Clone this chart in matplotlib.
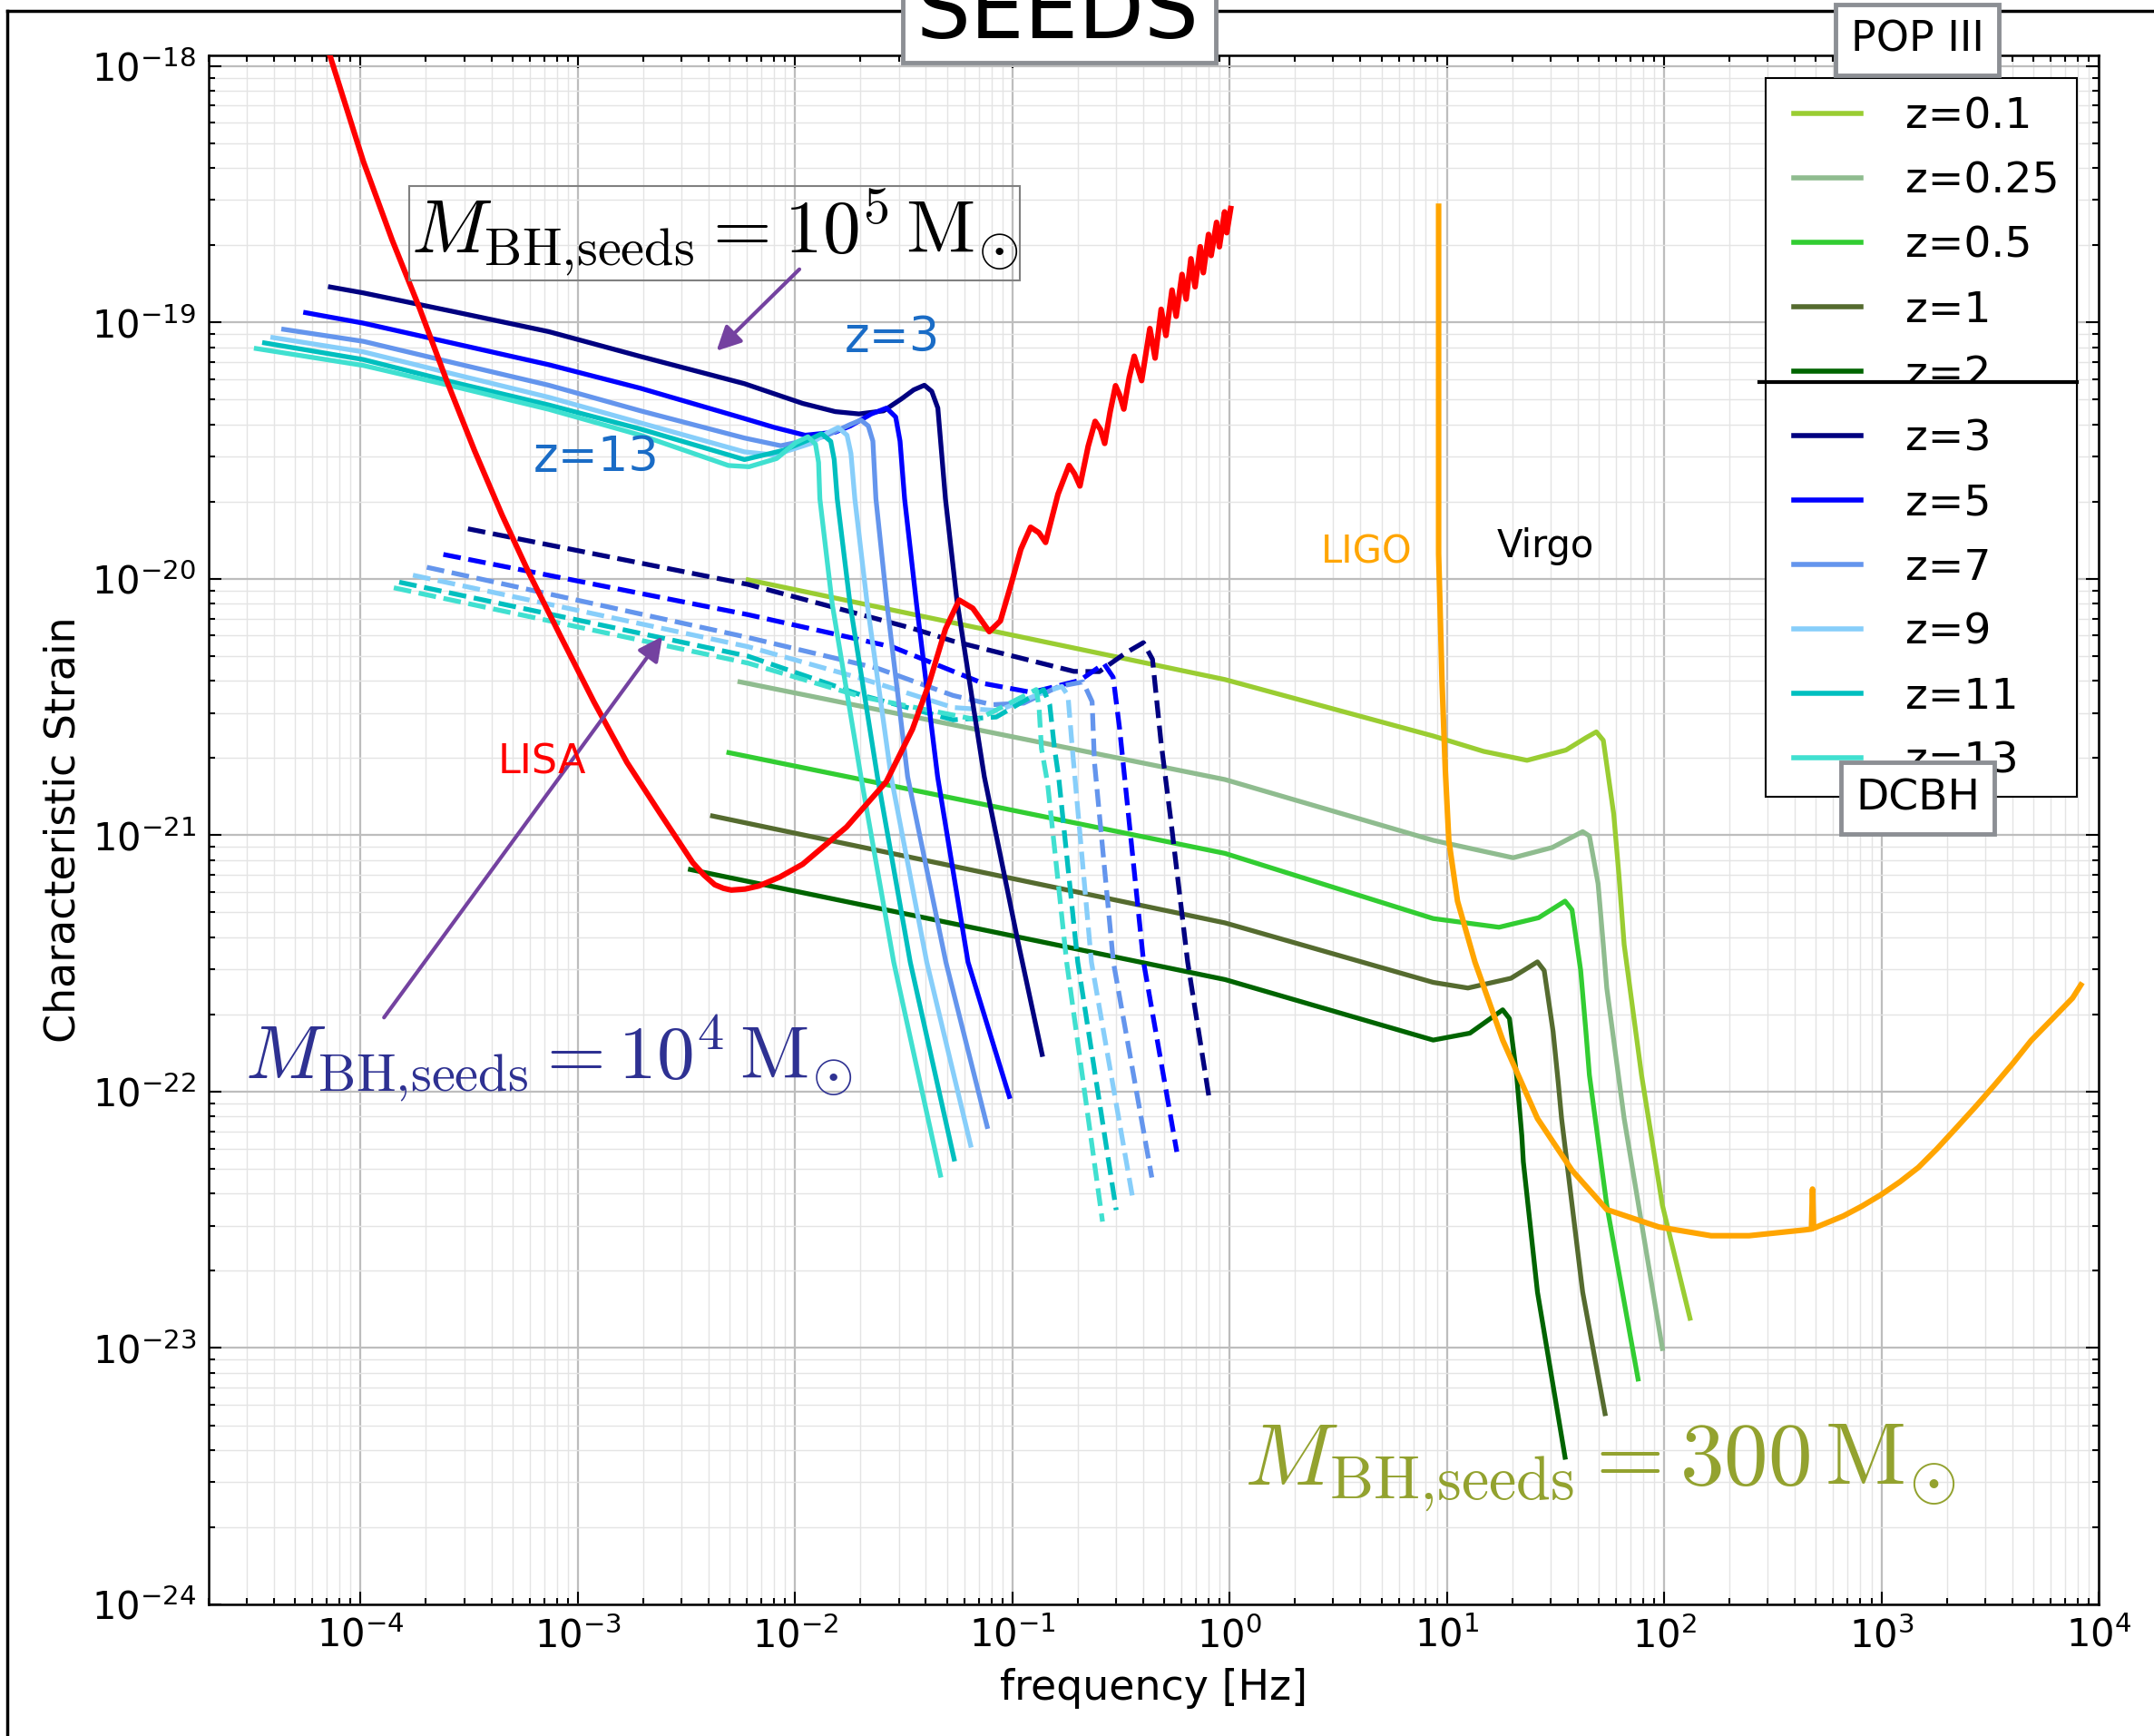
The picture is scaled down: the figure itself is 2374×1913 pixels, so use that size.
import numpy as np
import matplotlib.pyplot as plt
from matplotlib.lines import Line2D
from matplotlib.patches import Rectangle
from matplotlib.ticker import LogLocator

# every curve is a list of (log10 f [Hz], log10 h_c) pairs

# LISA sensitivity
lisa_curve = [(-4.139, -17.965), (-3.987, -18.373), (-3.855, -18.678), (-3.728, -18.946),
              (-3.602, -19.231), (-3.476, -19.499), (-3.349, -19.751), (-3.223, -19.981),
              (-3.077, -20.228), (-2.926, -20.480), (-2.774, -20.716), (-2.622, -20.914),
              (-2.471, -21.107), (-2.420, -21.155), (-2.370, -21.193), (-2.330, -21.207),
              (-2.294, -21.214), (-2.230, -21.210), (-2.167, -21.198), (-2.070, -21.163),
              (-1.965, -21.113), (-1.763, -20.968), (-1.580, -20.791), (-1.460, -20.587),
              (-1.384, -20.410), (-1.308, -20.196), (-1.245, -20.083), (-1.182, -20.115),
              (-1.106, -20.206), (-1.055, -20.164), (-1.005, -20.019), (-0.961, -19.885),
              (-0.916, -19.799), (-0.878, -19.820), (-0.847, -19.858), (-0.790, -19.670),
              (-0.739, -19.558), (-0.714, -19.590), (-0.689, -19.638), (-0.651, -19.483),
              (-0.619, -19.386), (-0.594, -19.418), (-0.575, -19.472), (-0.550, -19.349),
              (-0.525, -19.247), (-0.506, -19.284), (-0.487, -19.338), (-0.462, -19.214),
              (-0.439, -19.132), (-0.405, -19.227), (-0.367, -19.024), (-0.343, -19.139),
              (-0.315, -18.949), (-0.293, -19.051), (-0.265, -18.874), (-0.246, -18.976),
              (-0.219, -18.813), (-0.200, -18.909), (-0.178, -18.752), (-0.159, -18.861),
              (-0.135, -18.705), (-0.121, -18.806), (-0.097, -18.657), (-0.085, -18.739),
              (-0.060, -18.610), (-0.047, -18.705), (-0.023, -18.569), (-0.013, -18.650),
              (0.005, -18.556)]

# LIGO sensitivity
ligo_curve = [(0.962, -18.547), (0.962, -19.902), (0.978, -20.410), (0.993, -20.749),
              (1.009, -21.020), (1.049, -21.257), (1.129, -21.494), (1.257, -21.799),
              (1.417, -22.105), (1.576, -22.307), (1.736, -22.460), (1.976, -22.528),
              (2.216, -22.562), (2.391, -22.562), (2.651, -22.539), (2.678, -22.536),
              (2.683, -22.380), (2.688, -22.533), (2.825, -22.485), (2.910, -22.447),
              (2.997, -22.403), (3.085, -22.352), (3.170, -22.296), (3.255, -22.224),
              (3.343, -22.143), (3.430, -22.062), (3.517, -21.978), (3.605, -21.890),
              (3.689, -21.801), (3.785, -21.718), (3.880, -21.635), (3.918, -21.584)]

# POP III seeds, 300 Msun
pop3_labels = ['z=0.1', 'z=0.25', 'z=0.5', 'z=1', 'z=2']
pop3_colors = ['yellowgreen', 'darkseagreen', 'limegreen', 'darkolivegreen', 'darkgreen']
pop3_curves = [
    [(-2.216, -20.004), (-0.998, -20.220), (-0.021, -20.393), (0.937, -20.613), (1.169, -20.673),
     (1.369, -20.708), (1.548, -20.668), (1.640, -20.620), (1.688, -20.597), (1.720, -20.630),
     (1.768, -20.918), (1.792, -21.156), (1.816, -21.427), (1.896, -21.935), (1.992, -22.443),
     (2.119, -22.884)],
    [(-2.254, -20.402), (-0.021, -20.783), (0.937, -21.020), (1.305, -21.088), (1.485, -21.048),
     (1.625, -20.986), (1.656, -21.003), (1.696, -21.189), (1.720, -21.427), (1.736, -21.596),
     (1.816, -22.105), (1.992, -23.002)],
    [(-2.305, -20.678), (-0.021, -21.071), (0.937, -21.325), (1.240, -21.359), (1.422, -21.322),
     (1.544, -21.257), (1.576, -21.291), (1.616, -21.528), (1.640, -21.766), (1.656, -21.935),
     (1.736, -22.443), (1.880, -23.121)],
    [(-2.380, -20.925), (-0.021, -21.342), (0.937, -21.574), (1.097, -21.596), (1.295, -21.558),
     (1.417, -21.494), (1.448, -21.528), (1.489, -21.766), (1.513, -21.968), (1.528, -22.105),
     (1.625, -22.782), (1.728, -23.256)],
    [(-2.482, -21.134), (-0.021, -21.563), (0.937, -21.799), (1.106, -21.772), (1.257, -21.681),
     (1.288, -21.715), (1.321, -21.935), (1.345, -22.172), (1.352, -22.274), (1.417, -22.782),
     (1.544, -23.426)],
]

# DCBH seeds: 1e5 Msun (solid) and 1e4 Msun (dashed)
dcbh_labels = ['z=3', 'z=5', 'z=7', 'z=9', 'z=11', 'z=13']
dcbh_colors = ['navy', 'blue', 'cornflowerblue', 'lightskyblue', 'c', 'turquoise']
dcbh_1e5_curves = [
    [(-4.139, -18.862), (-3.987, -18.885), (-3.560, -18.960), (-3.134, -19.036), (-2.711, -19.133),
     (-2.233, -19.239), (-1.965, -19.316), (-1.815, -19.348), (-1.706, -19.357), (-1.593, -19.345),
     (-1.510, -19.298), (-1.454, -19.263), (-1.405, -19.245), (-1.371, -19.269), (-1.343, -19.334),
     (-1.308, -19.688), (-1.255, -20.085), (-1.179, -20.501), (-1.129, -20.772), (-0.977, -21.404),
     (-0.863, -21.855)],
    [(-4.253, -18.962), (-3.987, -19.003), (-3.560, -19.084), (-3.134, -19.165), (-2.711, -19.257),
     (-2.233, -19.375), (-2.094, -19.410), (-1.954, -19.440), (-1.815, -19.428), (-1.746, -19.404),
     (-1.649, -19.357), (-1.579, -19.334), (-1.537, -19.369), (-1.517, -19.463), (-1.496, -19.688),
     (-1.441, -20.099), (-1.344, -20.772), (-1.204, -21.495), (-1.014, -22.019)],
    [(-4.354, -19.027), (-3.987, -19.074), (-3.560, -19.160), (-3.134, -19.245), (-2.711, -19.345),
     (-2.233, -19.451), (-2.066, -19.481), (-1.864, -19.445), (-1.746, -19.398), (-1.697, -19.381),
     (-1.663, -19.404), (-1.642, -19.463), (-1.628, -19.688), (-1.577, -20.099), (-1.482, -20.772),
     (-1.306, -21.495), (-1.116, -22.136)],
    [(-4.404, -19.059), (-3.987, -19.115), (-3.560, -19.204), (-3.134, -19.292), (-2.711, -19.392),
     (-2.233, -19.505), (-2.094, -19.517), (-1.927, -19.472), (-1.858, -19.434), (-1.802, -19.410),
     (-1.761, -19.440), (-1.743, -19.511), (-1.725, -19.688), (-1.668, -20.099), (-1.558, -20.772),
     (-1.394, -21.495), (-1.192, -22.209)],
    [(-4.442, -19.080), (-3.987, -19.145), (-3.560, -19.236), (-3.134, -19.322), (-2.711, -19.416),
     (-2.233, -19.535), (-2.054, -19.499), (-1.934, -19.457), (-1.878, -19.434), (-1.836, -19.464),
     (-1.820, -19.535), (-1.806, -19.688), (-1.747, -20.099), (-1.621, -20.772), (-1.470, -21.495),
     (-1.268, -22.263)],
    [(-4.480, -19.102), (-3.987, -19.168), (-3.560, -19.252), (-3.134, -19.339), (-2.711, -19.440),
     (-2.307, -19.558), (-2.212, -19.563), (-2.085, -19.531), (-1.997, -19.469), (-1.941, -19.446),
     (-1.906, -19.475), (-1.892, -19.546), (-1.886, -19.688), (-1.829, -20.099), (-1.697, -20.772),
     (-1.546, -21.495), (-1.331, -22.326)],
]
dcbh_1e4_curves = [
    [(-3.506, -19.805), (-2.216, -20.022), (-1.457, -20.194), (-1.273, -20.243), (-0.995, -20.302),
     (-0.717, -20.361), (-0.600, -20.362), (-0.480, -20.290), (-0.397, -20.249), (-0.355, -20.314),
     (-0.316, -20.635), (-0.269, -20.952), (-0.193, -21.495), (-0.092, -22.037)],
    [(-3.619, -19.905), (-2.216, -20.140), (-1.551, -20.266), (-1.134, -20.408), (-0.911, -20.443),
     (-0.689, -20.396), (-0.578, -20.331), (-0.536, -20.384), (-0.506, -20.587), (-0.396, -21.495),
     (-0.243, -22.235)],
    [(-3.695, -19.955), (-2.216, -20.229), (-1.621, -20.349), (-1.273, -20.455), (-1.093, -20.491),
     (-0.948, -20.485), (-0.786, -20.420), (-0.675, -20.402), (-0.633, -20.479), (-0.622, -20.716),
     (-0.535, -21.495), (-0.358, -22.335)],
    [(-3.759, -19.986), (-2.216, -20.265), (-1.690, -20.390), (-1.273, -20.502), (-1.065, -20.514),
     (-0.856, -20.443), (-0.772, -20.420), (-0.744, -20.455), (-0.724, -20.662), (-0.636, -21.495),
     (-0.446, -22.416)],
    [(-3.822, -20.013), (-2.216, -20.302), (-1.690, -20.455), (-1.273, -20.550), (-1.074, -20.539),
     (-0.856, -20.432), (-0.828, -20.491), (-0.806, -20.662), (-0.787, -20.772), (-0.699, -21.495),
     (-0.522, -22.462)],
    [(-3.847, -20.035), (-2.216, -20.329), (-1.690, -20.461), (-1.162, -20.550), (-0.890, -20.432),
     (-0.877, -20.502), (-0.866, -20.662), (-0.838, -20.796), (-0.750, -21.495), (-0.585, -22.507)],
]

LW = 3.8
MATH_LABEL = r'$M_{\mathrm{BH{,}seeds}}=%s\,\mathrm{M}_{\odot}$'


def draw(ax, curve, **kw):
    arr = np.array(curve)
    return ax.plot(10 ** arr[:, 0], 10 ** arr[:, 1], **kw)


plt.rcParams['font.family'] = ['DejaVu Sans']
fig = plt.figure(figsize=(23.74, 19.13), dpi=100)
ax = fig.add_axes([0.0969, 0.0758, 0.8774, 0.8923])
ax.set_xscale('log')
ax.set_yscale('log')
ax.set_xlim(2e-5, 1e4)
ax.set_ylim(1e-24, 1.1e-18)

for curve, col in zip(pop3_curves, pop3_colors):
    draw(ax, curve, color=col, lw=LW, zorder=3)
for curve, col in zip(dcbh_1e4_curves, dcbh_colors):
    draw(ax, curve, color=col, lw=LW, ls='--', zorder=3)
for curve, col in zip(dcbh_1e5_curves, dcbh_colors):
    draw(ax, curve, color=col, lw=LW, zorder=3)
draw(ax, lisa_curve, color='red', lw=4.4, zorder=4)
draw(ax, ligo_curve, color='orange', lw=4.4, zorder=4)

# axes styling
ax.xaxis.set_major_locator(LogLocator(base=10, numticks=30))
ax.yaxis.set_major_locator(LogLocator(base=10, numticks=30))
ax.xaxis.set_minor_locator(LogLocator(base=10, subs=np.arange(2, 10), numticks=200))
ax.yaxis.set_minor_locator(LogLocator(base=10, subs=np.arange(2, 10), numticks=200))
ax.grid(True, which='major', color='#bdbdbd', lw=1.6, zorder=0)
ax.grid(True, which='minor', color='#e4e4e4', lw=1.0, zorder=0)
ax.set_axisbelow(True)
ax.tick_params(which='both', direction='in', top=True, right=True, width=1.5)
ax.tick_params(which='major', length=10, labelsize=30, pad=10)
ax.tick_params(which='minor', length=5)
for sp in ax.spines.values():
    sp.set_linewidth(1.8)
ax.set_xlabel('frequency [Hz]', fontsize=33, labelpad=10)
ax.set_ylabel('Characteristic Strain', fontsize=33, labelpad=6)

# annotations
ax.text(10 ** -2.370, 10 ** -18.651, MATH_LABEL % '10^5', fontsize=60, ha='center', va='center',
        math_fontfamily='cm', zorder=6,
        bbox=dict(boxstyle='square,pad=0.02', fc='none', ec='#808080', lw=1.5))
ax.text(10 ** -3.134, 10 ** -21.869, MATH_LABEL % '10^4', fontsize=60, ha='center', va='center',
        math_fontfamily='cm', color='#2e3192', zorder=6)
ax.text(10 ** 1.706, 10 ** -23.467, MATH_LABEL % '300', fontsize=70, ha='center', va='center',
        math_fontfamily='cm', color='#93a22f', zorder=6)
arrow_kw = dict(arrowstyle='-|>', color='#7442a0', lw=3, mutation_scale=40)
ax.annotate('', xy=(10 ** -2.370, 10 ** -19.118), xytext=(10 ** -1.972, 10 ** -18.786),
            arrowprops=arrow_kw, zorder=6)
ax.annotate('', xy=(10 ** -2.604, 10 ** -20.217), xytext=(10 ** -3.899, 10 ** -21.719),
            arrowprops=arrow_kw, zorder=6)
ax.text(10 ** -1.554, 10 ** -19.059, 'z=3', fontsize=38, color='#1a6cc6', ha='center', va='center', zorder=6)
ax.text(10 ** -2.913, 10 ** -19.525, 'z=13', fontsize=38, color='#1a6cc6', ha='center', va='center', zorder=6)
ax.text(10 ** -3.166, 10 ** -20.716, 'LISA', fontsize=32, color='red', ha='center', va='center', zorder=6)
ax.text(10 ** 0.632, 10 ** -19.895, 'LIGO', fontsize=30, color='orange', ha='center', va='center', zorder=6)
ax.text(10 ** 1.453, 10 ** -19.874, 'Virgo', fontsize=30, color='black', ha='center', va='center', zorder=6)

# legend: POP III entries on top, DCBH entries below, frame drawn separately
handles = [Line2D([], [], color=c, lw=4) for c in pop3_colors + dcbh_colors]
labels = pop3_labels + dcbh_labels
leg = ax.legend(handles, labels, loc='upper left', bbox_to_anchor=(0.8248, 0.9540),
                bbox_transform=fig.transFigure, fontsize=34, frameon=False,
                borderaxespad=0, handlelength=1.57, handletextpad=1.04,
                labelspacing=0.55, borderpad=0.4)
leg.set_zorder(10)
ax.add_patch(Rectangle((0.8197, 0.5410), 0.1445, 0.4140, transform=fig.transFigure,
                       fc='white', ec='black', lw=1.5, zorder=9, clip_on=False))

# separator between the two seed families inside the legend
fig.add_artist(Rectangle((0.8206, 0.7700), 0.1428, 0.0099, transform=fig.transFigure,
                         fc='white', ec='none', zorder=5))
fig.add_artist(Line2D([0.8168, 0.9642], [0.7799, 0.7799], transform=fig.transFigure,
                      color='black', lw=3, zorder=6))


def label_box(x0, y0, w, h, text, tx, ty, size, va='center'):
    fig.add_artist(Rectangle((x0, y0), w, h, transform=fig.transFigure,
                             fc='white', ec='#8c8f94', lw=3.5, zorder=7))
    fig.text(tx, ty, text, fontsize=size, ha='center', va=va, zorder=8)


label_box(0.8522, 0.9566, 0.0758, 0.0408, 'POP III', 0.8901, 0.977, 33)
label_box(0.8547, 0.5196, 0.0712, 0.0413, 'DCBH', 0.8903, 0.5402, 34)
label_box(0.4191, 0.9639, 0.1453, 0.06, 'SEEDS', 0.4911, 0.978, 68, va='baseline')

# outer frame
fig.add_artist(Line2D([0.0034, 1.0], [0.9937, 0.9937], transform=fig.transFigure, color='black', lw=2.5, zorder=2))
fig.add_artist(Line2D([0.0034, 0.0034], [0.0, 0.9937], transform=fig.transFigure, color='black', lw=2.5, zorder=2))

fig.savefig('out.png', dpi=100)
